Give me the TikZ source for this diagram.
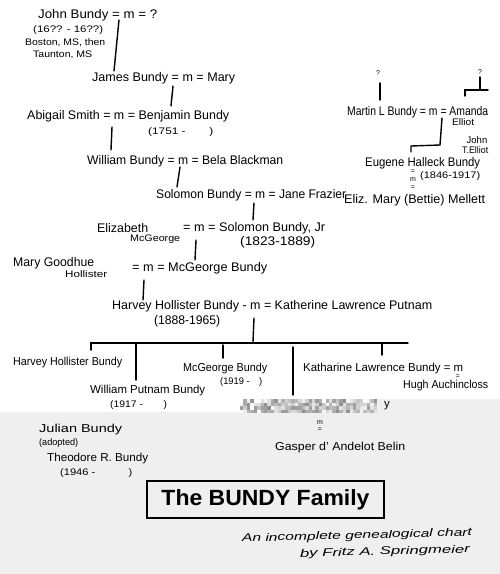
\documentclass[tikz,border=0pt]{standalone}
\usepackage{fontspec}
\usepackage{graphicx}
\setmainfont{Liberation Sans}
\definecolor{bggray}{RGB}{239,239,239}
\newcommand\fw[2]{\resizebox{#1pt}{\height}{#2}}
\begin{document}
\begin{tikzpicture}[x=1pt,y=-1pt,
 nm/.style={anchor=west,inner sep=0pt,font=\fontsize{12.5}{14}\selectfont},
 sm/.style={anchor=west,inner sep=0pt,font=\fontsize{9.5}{11}\selectfont},
 kid/.style={anchor=west,inner sep=0pt,font=\fontsize{11.5}{13}\selectfont},
 tinyt/.style={inner sep=0pt,font=\fontsize{7}{8}\selectfont},
 ln/.style={line width=1.4pt,line cap=round}]
\useasboundingbox (0,0) rectangle (500,574);
\fill[white] (0,0) rectangle (500,574);
\fill[bggray] (0,412) rectangle (500,574);
\fill[bggray] (240,399) rectangle (500,412);
% mosaic band
\pgfmathsetseed{12}
\foreach \i in {0,...,39}{\foreach \j in {0,...,3}{
 \pgfmathtruncatemacro\g{random(0,45)}
 \fill[black!\g] ({240+\i*3.425},{399+\j*3.5}) rectangle ++(3.425,3.5);}}
% left tree
\node[nm] (john) at (38,15) {\fw{119}{John Bundy = m = ?}};
\node[sm] (jdates) at (33,30) {\fw{70}{(16?? - 16??)}};
\node[sm] (boston) at (25,43) {\fw{80}{Boston, MS, then}};
\node[sm] (taunton) at (33,55) {\fw{59}{Taunton, MS}};
\node[nm] (james) at (92,78) {\fw{143}{James Bundy = m = Mary}};
\node[nm] (benj) at (27,116) {\fw{202}{Abigail Smith = m = Benjamin Bundy}};
\node[sm] (bdates) at (148,132) {\fw{65}{(1751 -\hspace{2em})}};
\node[nm] (william) at (87,161) {\fw{196}{William Bundy = m = Bela Blackman}};
\node[nm] (solomon) at (156,195) {\fw{190}{Solomon Bundy = m = Jane Frazier}};
\node[nm] (eliz) at (97,228) {\fw{51}{Elizabeth}};
\node[sm] (mcg1) at (130,239) {\fw{50}{McGeorge}};
\node[nm] (soljr) at (183,228) {\fw{142}{= m = Solomon Bundy, Jr}};
\node[nm] (sjdates) at (240,242) {\fw{75}{(1823-1889)}};
\node[nm] (mary) at (13,263) {\fw{81}{Mary Goodhue}};
\node[sm] (holl) at (65,274) {\fw{42}{Hollister}};
\node[nm] (mcg) at (132,268) {\fw{135}{= m = McGeorge Bundy}};
\node[nm] (harvey) at (112,306) {\fw{320}{Harvey Hollister Bundy - m = Katherine Lawrence Putnam}};
\node[nm] (hdates) at (154,321) {\fw{66}{(1888-1965)}};
% children
\node[kid] (hhb) at (13,363) {\fw{109}{Harvey Hollister Bundy}};
\node[kid] (mcgb) at (183,369) {\fw{84}{McGeorge Bundy}};
\node[sm] (mdates) at (220,382) {\fw{42}{(1919 -\hspace{1em})}};
\node[kid] (kath) at (303,369) {\fw{160}{Katharine Lawrence Bundy = m}};
\node[tinyt] (keq) at (458,377) {=};
\node[kid] (hugh) at (403,386) {\fw{85}{Hugh Auchincloss}};
\node[kid] (wpb) at (90,391) {\fw{115}{William Putnam Bundy}};
\node[sm] (wdates) at (110,405) {\fw{57}{(1917 -\hspace{2em})}};
\node[kid] (ly) at (384,406) {y};
\node[tinyt] (gm) at (320,423) {m};
\node[tinyt] (geq) at (320,430) {=};
\node[kid] (gasper) at (275,448) {\fw{130}{Gasper d' Andelot Belin}};
\node[kid] (julian) at (39,430) {\fw{83}{Julian Bundy}};
\node[sm] (adopt) at (39,443) {\fw{39}{(adopted)}};
\node[kid] (theo) at (47,459) {\fw{101}{Theodore R. Bundy}};
\node[sm] (tdates) at (60,473) {\fw{72}{(1946 -\hspace{3em})}};
% right tree
\node[tinyt] (q1) at (378,73) {?};
\node[tinyt] (q2) at (480,72) {?};
\node[nm] (martin) at (347,112) {\fw{141}{Martin L Bundy = m = Amanda}};
\node[sm] (elliot) at (452,122) {\fw{22}{Elliot}};
\node[sm,anchor=center] (johnt) at (477,140) {John};
\node[sm] (telliot) at (462,150) {\fw{26}{T.Elliot}};
\node[nm] (eugene) at (365,163) {\fw{115}{Eugene Halleck Bundy}};
\node[sm] (edates) at (420,176) {\fw{60}{(1846-1917)}};
\node[tinyt] (em1) at (413,172) {=};
\node[tinyt] (em2) at (413,180) {m};
\node[tinyt] (em3) at (413,188) {=};
\node[nm] (mellett) at (344,200) {\fw{141}{Eliz. Mary (Bettie) Mellett}};
% title
\node[draw,line width=2.3pt,minimum width=237pt,minimum height=37pt,inner sep=0pt,
  font=\bfseries\fontsize{22}{24}\selectfont] (title) at (265.5,499.5) {\fw{208}{The BUNDY Family}};
\node[inner sep=0pt,rotate=1.5,font=\itshape\fontsize{11}{12}\selectfont] (sub1) at (357,536) {\fw{230}{An incomplete genealogical chart}};
\node[inner sep=0pt,rotate=1.5,font=\itshape\fontsize{11}{12}\selectfont] (sub2) at (385,552) {\fw{170}{by Fritz A. Springmeier}};
% connector coordinates
\coordinate (a1) at (119,20); \coordinate (a2) at (114,71);
\coordinate (b1) at (173,86); \coordinate (b2) at (171,106);
\coordinate (c1) at (112,127); \coordinate (c2) at (111,150);
\coordinate (d1) at (180,167); \coordinate (d2) at (177,187);
\coordinate (e1) at (254,203); \coordinate (e2) at (253,220);
\coordinate (f1) at (196,240); \coordinate (f2) at (195,260);
\coordinate (g1) at (144,280); \coordinate (g2) at (143,300);
\coordinate (h1) at (254,318); \coordinate (h2) at (253,342);
\coordinate (barL) at (91,343); \coordinate (barR) at (408,343);
\coordinate (tick0) at (91,350);
\coordinate (k1a) at (136,343); \coordinate (k1b) at (136,380);
\coordinate (k2a) at (223,345); \coordinate (k2b) at (223,358);
\coordinate (k3a) at (293,347); \coordinate (k3b) at (293,395);
\coordinate (k4a) at (382,343); \coordinate (k4b) at (382,355);
\coordinate (r1) at (380,83); \coordinate (r2) at (380,100);
\coordinate (s1) at (480,77); \coordinate (s2) at (480,90);
\coordinate (s3) at (465,90); \coordinate (s4) at (488,90); \coordinate (s5) at (465,96);
\coordinate (u1) at (442,118); \coordinate (u2) at (440,145);
\coordinate (u3) at (411,146); \coordinate (u4) at (411,152);
% connectors
\draw[ln] (a1) -- (a2);
\draw[ln] (b1) -- (b2);
\draw[ln] (c1) -- (c2);
\draw[ln] (d1) -- (d2);
\draw[ln] (e1) -- (e2);
\draw[ln] (f1) -- (f2);
\draw[ln] (g1) -- (g2);
\draw[ln] (h1) -- (h2);
\draw[ln] (tick0) -- (barL) -- (barR);
\draw[ln] (k1a) -- (k1b);
\draw[ln] (k2a) -- (k2b);
\draw[ln] (k3a) -- (k3b);
\draw[ln] (k4a) -- (k4b);
\draw[ln] (r1) -- (r2);
\draw[ln] (s1) -- (s2);
\draw[ln] (s5) -- (s3) -- (s4);
\draw[ln] (u1) -- (u2) -- (u3) -- (u4);
\end{tikzpicture}
\end{document}
